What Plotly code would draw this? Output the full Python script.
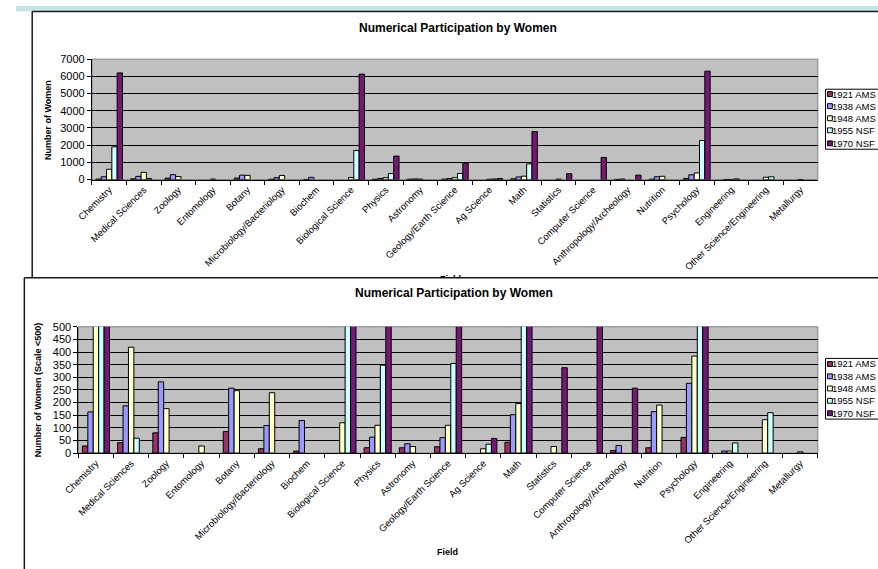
import plotly.graph_objects as go

# ---- data -------------------------------------------------------------
fields = ["Chemistry", "Medical Sciences", "Zoology", "Entomology", "Botany",
          "Microbiology/Bacteriology", "Biochem", "Biological Science", "Physics",
          "Astronomy", "Geology/Earth Science", "Ag Science", "Math", "Statistics",
          "Computer Science", "Anthropology/Archeology", "Nutrition", "Psychology",
          "Engineering", "Other Science/Engineering", "Metallurgy"]

ams_1921 = [28, 41, 80, None, 85, 17, 8, None, 21, 21, 25, None, 43, None,
            None, 10, 21, 62, None, None, None]
ams_1938 = [163, 187, 282, None, 257, 109, 129, None, 63, 37, 61, None, 152, None,
            None, 30, 164, 276, 8, None, None]
ams_1948 = [600, 419, 176, 28, 247, 239, None, 120, 110, 26, 110, 17, 196, 26,
            None, None, 190, 384, 8, 132, 5]
nsf_1955 = [1900, 59, None, None, None, None, None, 1690, 348, None, 355, 35, 910, None,
            None, None, None, 2270, 40, 160, None]
nsf_1970 = [6200, None, None, None, None, None, None, 6130, 1365, None, 965, 58, 2790, 338,
            1290, 257, None, 6300, None, None, None]

series_names = ["1921 AMS", "1938 AMS", "1948 AMS", "1955 NSF", "1970 NSF"]
series_values = [ams_1921, ams_1938, ams_1948, nsf_1955, nsf_1970]
series_colors = ["#993366", "#9999FF", "#FFFFCC", "#CCFFFF", "#741874"]

chart_title = "Numerical Participation by Women"
x_title = "Field"
y_title_full = "Number of Women"
y_title_zoom = "Number of Women (Scale <500)"

# ---- page geometry helpers (pixel -> paper fraction) -------------------
W, H = 878, 569


def px(x):
    return x / W


def py(y):
    return 1 - y / H


FONT = "Arial, Liberation Sans, sans-serif"

fig = go.Figure()

# full-scale chart (top) and zoomed chart (bottom)
for xa, ya in (("x", "y"), ("x2", "y2")):
    for name, vals, color in zip(series_names, series_values, series_colors):
        fig.add_trace(go.Bar(
            x=fields, y=vals, name=name, xaxis=xa, yaxis=ya, showlegend=False,
            marker=dict(color=color, line=dict(color="black", width=1)),
        ))

xcommon = dict(type="category", tickangle=-45, ticks="outside", tickson="boundaries",
               ticklen=4, tickcolor="black", showline=True, linecolor="black",
               linewidth=1, showgrid=False, fixedrange=True,
               tickfont=dict(family=FONT, size=9.5, color="black"))
ycommon = dict(ticks="outside", ticklen=4, tickcolor="black", showline=True,
               linecolor="black", linewidth=1, showgrid=True, gridcolor="black",
               gridwidth=1, zeroline=False, fixedrange=True, tickformat="d",
               tickfont=dict(family=FONT, size=11, color="black"))

fig.update_layout(
    width=W, height=H, autosize=False,
    margin=dict(l=0, r=0, t=0, b=0, pad=0),
    paper_bgcolor="white", plot_bgcolor="#C0C0C0",
    barmode="group", bargap=0.23, bargroupgap=0,
    showlegend=False,
    xaxis=dict(domain=[px(77.3), px(816.7)], anchor="y", **xcommon),
    yaxis=dict(domain=[py(177.3), py(54.3)], anchor="x", range=[0, 7000],
               dtick=1000, **ycommon),
    xaxis2=dict(domain=[px(63.5), px(816.7)], anchor="y2", **xcommon),
    yaxis2=dict(domain=[py(456.7), py(327.7)], anchor="x2", range=[0, 500],
                dtick=50, **ycommon),
)

shapes = []
# light band along the top of the page
shapes.append(dict(type="rect", xref="paper", yref="paper", x0=0, x1=1,
                   y0=py(5.5), y1=1, fillcolor="#C5E3E8", line=dict(width=0),
                   layer="below"))
# chart frames
frame = dict(color="#1a1a1a", width=1.5)
shapes += [
    dict(type="line", xref="paper", yref="paper", x0=px(16.5), x1=px(16.5),
         y0=py(5.5), y1=py(277.5), line=frame),
    dict(type="line", xref="paper", yref="paper", x0=px(16.5), x1=1.02,
         y0=py(5.5), y1=py(5.5), line=frame),
    dict(type="line", xref="paper", yref="paper", x0=px(8.5), x1=px(8.5),
         y0=py(277.5), y1=-0.02, line=frame),
    dict(type="line", xref="paper", yref="paper", x0=px(8.5), x1=1.02,
         y0=py(277.5), y1=py(277.5), line=frame),
]
# plot-area borders
for xr, yr in (("x domain", "y domain"), ("x2 domain", "y2 domain")):
    shapes.append(dict(type="rect", xref=xr, yref=yr, x0=0, x1=1, y0=0, y1=1,
                       line=dict(color="#808080", width=1), layer="below"))

annotations = []


def text(x, y, s, size, bold=False, angle=0, xanchor="center", **kw):
    annotations.append(dict(
        xref="paper", yref="paper", x=px(x), y=py(y), showarrow=False,
        text=f"<b>{s}</b>" if bold else s, textangle=angle, xanchor=xanchor,
        yanchor=kw.pop("yanchor", "middle"),
        font=dict(family=FONT, size=size, color="black"), **kw))


# titles
text(450, 22, chart_title, 12, bold=True)
text(446, 293.5, chart_title, 12, bold=True)
text(32, 116, y_title_full, 9, bold=True, angle=-90)
text(22, 392, y_title_zoom, 9, bold=True, angle=-90)
text(440, 557.5, x_title, 9, bold=True)
# top chart's axis title, mostly hidden under the lower chart
text(443, 277.5, x_title, 9, bold=True, yanchor="bottom", height=4, valign="top",
     borderpad=0, borderwidth=0)

# hand-built legends
for top, rows in ((85, [90, 102.3, 114.7, 127, 140.3]),
                  (360, [365.7, 378.3, 390.7, 403.3, 416])):
    shapes.append(dict(type="rect", xref="paper", yref="paper",
                       x0=px(824.5), x1=px(890), y0=py(top), y1=py(rows[-1] + 6),
                       line=dict(color="black", width=1), fillcolor="white",
                       layer="above"))
    for yc, name, color in zip(rows, series_names, series_colors):
        shapes.append(dict(type="rect", xref="paper", yref="paper",
                           x0=px(826.5), x1=px(831.5), y0=py(yc - 2.5), y1=py(yc + 2.5),
                           line=dict(color="black", width=1), fillcolor=color,
                           layer="above"))
        text(831, yc, name, 9.5, xanchor="left", borderpad=0, borderwidth=0)

fig.update_layout(shapes=shapes, annotations=annotations)
fig.write_html("out.html")
